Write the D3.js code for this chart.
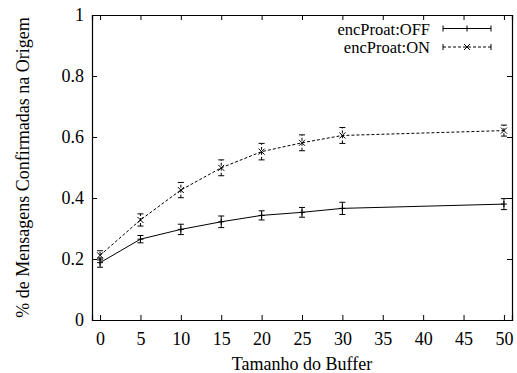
<!DOCTYPE html>
<html>
<head>
<meta charset="utf-8">
<script src="https://cdn.jsdelivr.net/npm/d3@7"></script>
<style>
  body { margin: 0; background: #fff; }
</style>
</head>
<body>
<svg id="chart" width="517" height="373"></svg>
<script>
// buffer sizes on the x axis
const bufferSizes = [0, 5, 10, 15, 20, 25, 30, 50]
// fraction of messages confirmed at origin, with error (half width)
const offValues = [0.188, 0.265, 0.297, 0.322, 0.343, 0.353, 0.366, 0.380]
const offErrors = [0.015, 0.012, 0.017, 0.019, 0.015, 0.016, 0.020, 0.018]
const onValues  = [0.212, 0.328, 0.426, 0.499, 0.552, 0.581, 0.605, 0.621]
const onErrors  = [0.015, 0.020, 0.025, 0.026, 0.027, 0.026, 0.026, 0.018]
const xTicks = [0, 5, 10, 15, 20, 25, 30, 35, 40, 45, 50]
const yTicks = [0, 0.2, 0.4, 0.6, 0.8, 1]
const seriesNames = ['encProat:OFF', 'encProat:ON']

const margin = {left: 92, right: 5, top: 15, bottom: 53}
const width = 517, height = 373
const serif = '"Liberation Serif", Tinos, "Times New Roman", Times, "DejaVu Serif", serif'
const fontSize = 18
const svg = d3.select('#chart')

const x = d3.scaleLinear().domain([-1, 51]).range([margin.left, width - margin.right])
const y = d3.scaleLinear().domain([0, 1]).range([height - margin.bottom, margin.top])

const series = [
  {name: seriesNames[0], values: offValues, errors: offErrors, dash: null, marker: 'plus'},
  {name: seriesNames[1], values: onValues, errors: onErrors, dash: '3,2', marker: 'cross'}
]

// axes, gnuplot style: ticks inside, mirrored on all sides
const tickLen = 5
svg.append('g')
  .attr('transform', 'translate(0,' + y(0) + ')')
  .call(d3.axisBottom(x).tickValues(xTicks).tickSize(-tickLen).tickPadding(12).tickFormat(d3.format('d')))
svg.append('g')
  .attr('transform', 'translate(0,' + y(1) + ')')
  .call(d3.axisTop(x).tickValues(xTicks).tickSize(-tickLen).tickFormat(''))
svg.append('g')
  .attr('transform', 'translate(' + x(-1) + ',0)')
  .call(d3.axisLeft(y).tickValues(yTicks).tickSize(-tickLen).tickPadding(8).tickFormat(d => d === 0 || d === 1 ? d3.format('d')(d) : d3.format('.1f')(d)))
svg.append('g')
  .attr('transform', 'translate(' + x(51) + ',0)')
  .call(d3.axisRight(y).tickValues(yTicks).tickSize(-tickLen).tickFormat(''))

svg.selectAll('g').attr('font-family', serif).attr('font-size', fontSize)
svg.selectAll('.domain').attr('stroke', '#000').attr('stroke-width', 1.2)
svg.selectAll('.tick line').attr('stroke', '#000')
svg.selectAll('.tick text').attr('fill', '#000')

const line = d3.line().x(d => x(d[0])).y(d => y(d[1]))

function drawErrorBar(g, cx, yLo, yHi, dash) {
  const cap = 3
  g.append('line').attr('x1', cx).attr('x2', cx).attr('y1', yLo).attr('y2', yHi)
    .attr('stroke', '#000').attr('stroke-dasharray', dash)
  g.append('line').attr('x1', cx - cap).attr('x2', cx + cap).attr('y1', yLo).attr('y2', yLo).attr('stroke', '#000')
  g.append('line').attr('x1', cx - cap).attr('x2', cx + cap).attr('y1', yHi).attr('y2', yHi).attr('stroke', '#000')
}

function drawMarker(g, cx, cy, kind) {
  const s = 3
  const p = kind === 'plus'
    ? `M${cx - s},${cy}H${cx + s}M${cx},${cy - s}V${cy + s}`
    : `M${cx - s},${cy - s}L${cx + s},${cy + s}M${cx - s},${cy + s}L${cx + s},${cy - s}`
  g.append('path').attr('d', p).attr('stroke', '#000').attr('fill', 'none')
}

series.forEach(function(s) {
  const pts = bufferSizes.map((b, i) => [b, s.values[i]])
  const g = svg.append('g')
  g.append('path')
    .attr('d', line(pts))
    .attr('fill', 'none')
    .attr('stroke', '#000')
    .attr('stroke-width', 1)
    .attr('stroke-dasharray', s.dash)
  bufferSizes.forEach(function(b, i) {
    drawErrorBar(g, x(b), y(s.values[i] - s.errors[i]), y(s.values[i] + s.errors[i]), s.dash)
    drawMarker(g, x(b), y(s.values[i]), s.marker)
  })
})

// legend
const legend = svg.append('g')
series.forEach(function(s, i) {
  const ly = 28.5 + i * 18.5
  legend.append('text')
    .attr('x', 430).attr('y', ly + 6)
    .attr('text-anchor', 'end')
    .attr('font-family', serif).attr('font-size', 16.5)
    .attr('fill', '#000')
    .text(s.name)
  legend.append('line')
    .attr('x1', 443).attr('x2', 491).attr('y1', ly).attr('y2', ly)
    .attr('stroke', '#000').attr('stroke-dasharray', s.dash)
  legend.append('line').attr('x1', 443).attr('x2', 443).attr('y1', ly - 3).attr('y2', ly + 3).attr('stroke', '#000')
  legend.append('line').attr('x1', 491).attr('x2', 491).attr('y1', ly - 3).attr('y2', ly + 3).attr('stroke', '#000')
  drawMarker(legend, 467, ly, s.marker)
})

// axis titles
svg.append('text')
  .attr('x', x(25)).attr('y', 370)
  .attr('text-anchor', 'middle')
  .attr('font-family', serif).attr('font-size', fontSize)
  .attr('fill', '#000')
  .text('Tamanho do Buffer')
svg.append('text')
  .attr('transform', 'translate(29,' + ((y(0) + y(1)) / 2) + ') rotate(-90)')
  .attr('text-anchor', 'middle')
  .attr('font-family', serif).attr('font-size', fontSize)
  .attr('fill', '#000')
  .text('% de Mensagens Confirmadas na Origem')
</script>
</body>
</html>
